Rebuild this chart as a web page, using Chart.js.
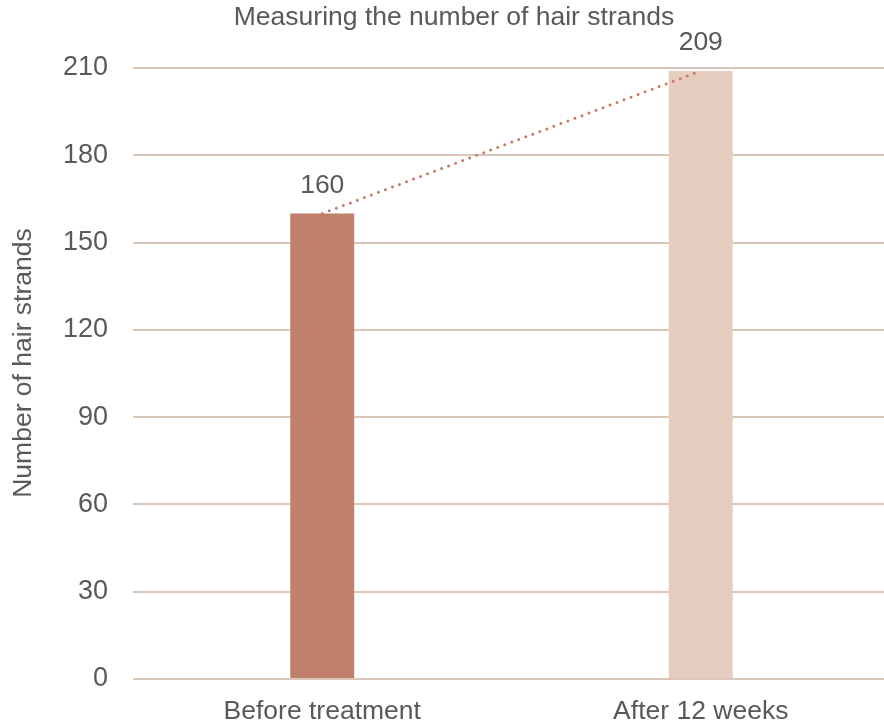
<!DOCTYPE html>
<html>
<head>
<meta charset="utf-8">
<script src="https://cdn.jsdelivr.net/npm/chart.js@4.4.0/dist/chart.umd.min.js"></script>
<style>
  html, body { margin: 0; padding: 0; background: #ffffff; overflow: hidden; }
  #wrap { width: 890px; height: 722px; position: relative; }
</style>
</head>
<body>
<div id="wrap"><canvas id="hairChart"></canvas></div>
<script>
// data
var categories = ["Before treatment", "After 12 weeks"];
var strandCounts = [160, 209];
var barColors = ['#c0806b', '#e7cdbf'];
var yTicks = { min: 0, max: 210, step: 30 };
var chartTitle = "Measuring the number of hair strands";
var yTitle = "Number of hair strands";

var textColor = '#595959';
var fontFamily = "'Liberation Sans', Arial, sans-serif";

// value labels above the bars + titles placed like the original
const chartTexts = {
    id: 'chartTexts',
    afterDatasetsDraw(chart) {
        const ctx = chart.ctx;
        const meta = chart.getDatasetMeta(1);
        ctx.save();
        ctx.fillStyle = textColor;
        ctx.textAlign = 'center';
        ctx.textBaseline = 'middle';
        ctx.font = '26.5px ' + fontFamily;
        meta.data.forEach((bar, i) => {
            ctx.fillText(String(strandCounts[i]), bar.x, bar.y - 28);
        });
        ctx.fillText(chartTitle, 454, 18);
        ctx.translate(24, 363);
        ctx.rotate(-Math.PI / 2);
        ctx.fillText(yTitle, 0, 0);
        ctx.restore();
    }
};

var ctx = document.getElementById("hairChart");
var hairChart = new Chart(ctx, {
    type: 'bar',
    data: {
        labels: categories,
        datasets: [{
            type: 'line',
            label: "trend",
            data: strandCounts,
            borderColor: '#c47a63',
            borderWidth: 3,
            borderDash: [0, 7.5],
            borderCapStyle: 'round',
            pointRadius: 0,
            fill: false,
            order: 0
        }, {
            label: yTitle,
            data: strandCounts,
            backgroundColor: barColors,
            borderWidth: 0,
            categoryPercentage: 1,
            barPercentage: 0.169,
            order: 1
        }]
    },
    options: {
        animation: false,
        responsive: true,
        maintainAspectRatio: false,
        layout: {
            padding: { left: 0, right: 0, top: 68, bottom: 0 }
        },
        scales: {
            x: {
                grid: { display: false, drawTicks: false },
                border: { display: false },
                ticks: {
                    color: textColor,
                    font: { family: fontFamily, size: 26.5 },
                    padding: 17
                },
                afterFit: function (scale) { scale.height = 43; }
            },
            y: {
                min: yTicks.min,
                max: yTicks.max,
                grid: { color: '#dbc7ba', lineWidth: 2, drawTicks: false },
                border: { display: false },
                ticks: {
                    stepSize: yTicks.step,
                    color: textColor,
                    font: { family: fontFamily, size: 27 },
                    padding: 25
                },
                afterFit: function (scale) { scale.width = 133; }
            }
        },
        plugins: {
            legend: { display: false },
            tooltip: { enabled: false },
            title: { display: false }
        }
    },
    plugins: [chartTexts]
});
</script>
</body>
</html>
